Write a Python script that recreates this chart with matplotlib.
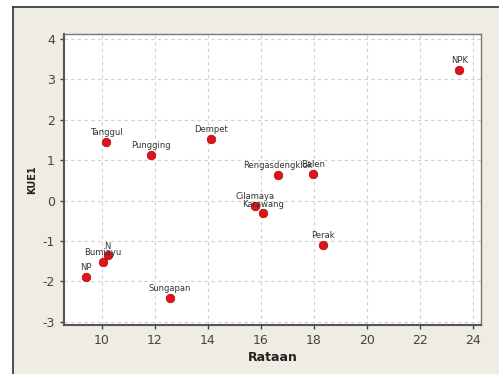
import matplotlib
matplotlib.use("Agg")
import matplotlib.pyplot as plt
from matplotlib.patches import Rectangle

plt.rcParams["axes.unicode_minus"] = False

# data
names = ["NPK", "Tanggul", "Pungging", "Dempet", "Rengasdengklok", "Balen",
         "Cilamaya", "Karawang", "Perak", "N", "Bumiayu", "NP", "Sungapan"]
rataan = [23.49, 10.16, 11.85, 14.11, 16.65, 17.98,
          15.78, 16.10, 18.34, 10.23, 10.04, 9.41, 12.58]
kue1 = [3.23, 1.44, 1.13, 1.52, 0.63, 0.65,
        -0.14, -0.32, -1.10, -1.36, -1.53, -1.88, -2.40]
xticks = [10, 12, 14, 16, 18, 20, 22, 24]
yticks = [-3, -2, -1, 0, 1, 2, 3, 4]

BEIGE = "#efece3"

fig = plt.figure(figsize=(4.99, 3.74), dpi=100)
fig.patch.set_facecolor("white")

# beige panel with dark top/left edge
W, H = 499, 374
panel = Rectangle((13 / W, 0), 1 - 13 / W, 1 - 7 / H, transform=fig.transFigure,
                  facecolor=BEIGE, edgecolor="none", zorder=-5)
fig.patches.append(panel)
fig.add_artist(plt.Line2D([13 / W, 1], [1 - 7 / H, 1 - 7 / H], transform=fig.transFigure,
                          color="#333333", lw=1.2, zorder=-4))
fig.add_artist(plt.Line2D([13 / W, 13 / W], [0, 1 - 7 / H], transform=fig.transFigure,
                          color="#333333", lw=1.2, zorder=-4))

ax = fig.add_axes([64 / W, 1 - 325 / H, (481 - 64) / W, (325 - 34) / H])
ax.set_zorder(2)
ax.set_facecolor("white")

ax.scatter(rataan, kue1, s=38, color="#d8161c", edgecolors="#c00000", linewidths=0.5, zorder=3)
for n, x, y in zip(names, rataan, kue1):
    ax.annotate(n, (x, y), xytext=(0, 3.5), textcoords="offset points",
                ha="center", va="bottom", fontsize=6, color="#333333", zorder=4)

ax.set_xlim(8.58, 24.31)
ax.set_ylim(-3.08, 4.12)
ax.set_xticks(xticks)
ax.set_yticks(yticks)
ax.grid(True, linestyle=(0, (3, 3)), color="#cfcfcf", linewidth=0.8)
ax.set_axisbelow(True)

for side in ["left", "bottom"]:
    ax.spines[side].set_color("#555555")
    ax.spines[side].set_linewidth(1.5)
for side in ["right", "top"]:
    ax.spines[side].set_color("#777777")
    ax.spines[side].set_linewidth(1.0)

ax.tick_params(axis="both", labelsize=9, colors="#444444", length=3, width=1)
ax.set_xlabel("Rataan", fontsize=9, fontweight="bold", color="#222222", labelpad=3)
ax.set_ylabel("KUE1", fontsize=7, fontweight="bold", color="#222222", labelpad=4)

fig.savefig("out.png", dpi=100, facecolor=fig.get_facecolor())
